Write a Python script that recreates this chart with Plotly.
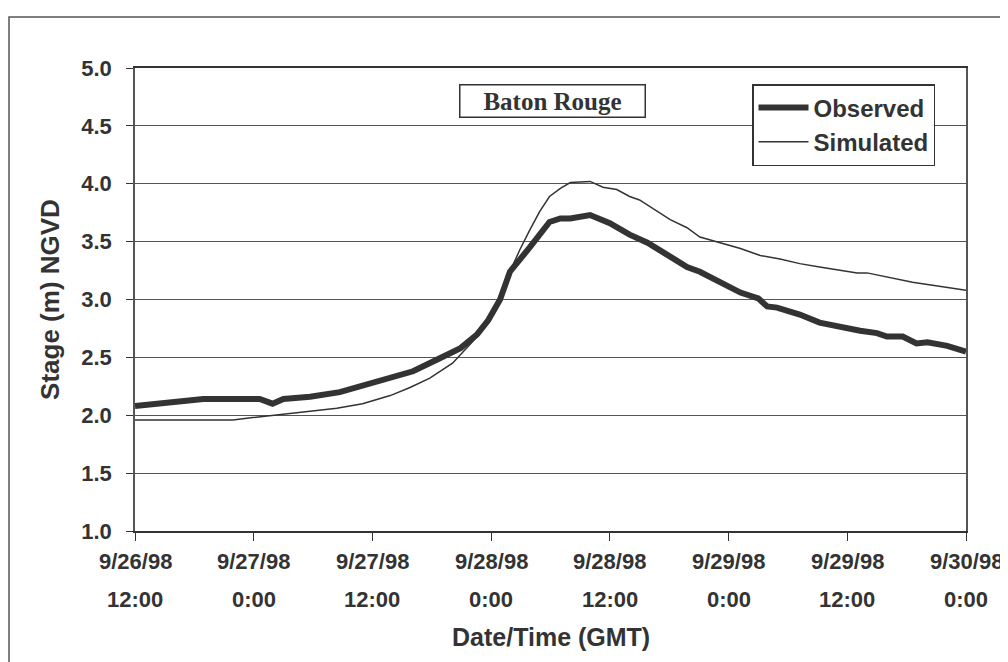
import plotly.graph_objects as go

# Hours since 9/26/98 12:00 GMT
obs_hours = [0, 2.8, 4.9, 6.9, 12.6, 13.9, 15.0, 17.7, 20.7, 23.0, 25.0, 28.1, 30.5, 32.9,
             34.6, 35.7, 36.9, 37.9, 39.9, 41.9, 43.0, 44.0, 46.0, 48.0, 50.0, 51.8, 54.1,
             55.8, 57.1, 59.1, 61.2, 63.0, 63.9, 64.9, 67.2, 69.2, 71.3, 73.3, 75.0, 76.0,
             77.6, 78.3, 79.0, 80.1, 82.1, 84.0]
obs_stage = [2.08, 2.10, 2.12, 2.14, 2.14, 2.10, 2.14, 2.16, 2.20, 2.26, 2.30, 2.38, 2.48, 2.58,
             2.70, 2.82, 3.00, 3.24, 3.45, 3.67, 3.70, 3.70, 3.73, 3.66, 3.56, 3.49, 3.37,
             3.28, 3.24, 3.15, 3.06, 3.01, 2.94, 2.93, 2.87, 2.80, 2.76, 2.73, 2.71, 2.68,
             2.68, 2.65, 2.62, 2.63, 2.60, 2.55]

sim_hours = [0, 9.9, 11.9, 13.9, 16.0, 18.0, 20.4, 23.0, 25.8, 27.8, 29.8, 32.1, 33.6, 34.6,
             35.7, 36.9, 37.9, 38.9, 39.9, 40.9, 41.9, 43.0, 44.0, 46.0, 47.3, 48.7, 50.0,
             51.0, 54.1, 55.8, 57.1, 59.1, 61.2, 63.2, 65.2, 67.2, 69.2, 73.0, 74.0, 78.6, 84.0]
sim_stage = [1.96, 1.96, 1.98, 2.00, 2.02, 2.04, 2.06, 2.10, 2.17, 2.24, 2.32, 2.45, 2.59, 2.68,
             2.83, 3.01, 3.24, 3.43, 3.60, 3.76, 3.89, 3.96, 4.01, 4.02, 3.97, 3.95, 3.89,
             3.86, 3.69, 3.62, 3.54, 3.49, 3.44, 3.38, 3.35, 3.31, 3.28, 3.23, 3.23, 3.15, 3.08]

tick_hours = [0, 12, 24, 36, 48, 60, 72, 84]
tick_dates = ["9/26/98", "9/27/98", "9/27/98", "9/28/98", "9/28/98", "9/29/98", "9/29/98", "9/30/98"]
tick_times = ["12:00", "0:00", "12:00", "0:00", "12:00", "0:00", "12:00", "0:00"]

INK = "#333333"
FONT = "Liberation Sans"

fig = go.Figure()
fig.add_trace(go.Scatter(x=obs_hours, y=obs_stage, mode="lines", name="<b>Observed</b>",
                         line=dict(color=INK, width=6)))
fig.add_trace(go.Scatter(x=sim_hours, y=sim_stage, mode="lines", name="<b>Simulated</b>",
                         line=dict(color=INK, width=1.5)))

annotations = []
for h, d, t in zip(tick_hours, tick_dates, tick_times):
    annotations.append(dict(x=h, y=0, xref="x", yref="paper", text="<b>%s</b>" % d,
                            showarrow=False, yanchor="middle", yshift=-30,
                            font=dict(family=FONT, size=22, color=INK)))
    annotations.append(dict(x=h, y=0, xref="x", yref="paper", text="<b>%s</b>" % t,
                            showarrow=False, yanchor="middle", yshift=-68,
                            font=dict(family=FONT, size=22, color=INK)))
annotations.append(dict(x=0.5, y=0, xref="paper", yref="paper", text="<b>Date/Time (GMT)</b>",
                        showarrow=False, yanchor="middle", yshift=-106,
                        font=dict(family=FONT, size=25, color=INK)))
annotations.append(dict(x=(552 - 135) / 831, y=(531 - 101) / 463, xref="paper", yref="paper",
                        text="<b>Baton Rouge</b>", showarrow=False,
                        xanchor="center", yanchor="middle",
                        width=184, height=31, borderpad=0, bordercolor=INK, borderwidth=1.5,
                        font=dict(family="Liberation Serif", size=25, color=INK)))

# page has an 8px body margin: figure is drawn from (8, 8)
fig.update_layout(
    width=1000, height=654,
    margin=dict(l=127, r=42, t=60, b=131),
    paper_bgcolor="white", plot_bgcolor="white",
    showlegend=True,
    legend=dict(x=(752 - 135) / 831, y=(531 - 84) / 463, xanchor="left", yanchor="top",
                bordercolor=INK, borderwidth=1.5, bgcolor="white",
                font=dict(family=FONT, size=24, color=INK), itemwidth=50,
                tracegroupgap=0),
    annotations=annotations,
    shapes=[dict(type="rect", xref="paper", yref="paper",
                 x0=(9 - 135) / 831, x1=(1003 - 135) / 831,
                 y0=(531 - 700) / 463, y1=(531 - 17) / 463,
                 line=dict(color="#555555", width=1.5), fillcolor="rgba(0,0,0,0)",
                 layer="below")],
    xaxis=dict(range=[0, 84], tickvals=tick_hours, showticklabels=False,
               ticks="outside", ticklen=8, tickcolor=INK, showgrid=False,
               showline=True, linecolor=INK, linewidth=1.5, mirror=True, zeroline=False),
    yaxis=dict(range=[1, 5], dtick=0.5, tickformat=".1f",
               ticks="outside", ticklen=7, tickcolor=INK, ticklabelstandoff=10,
               tickfont=dict(family=FONT, size=22, color=INK, weight="bold"),
               showgrid=True, gridcolor="#555555", gridwidth=1,
               showline=True, linecolor="#555555", linewidth=1.5, mirror=True, zeroline=False,
               title=dict(text="<b>Stage (m) NGVD</b>", standoff=14,
                          font=dict(family=FONT, size=26, color=INK))),
)

fig.write_html("out.html")
